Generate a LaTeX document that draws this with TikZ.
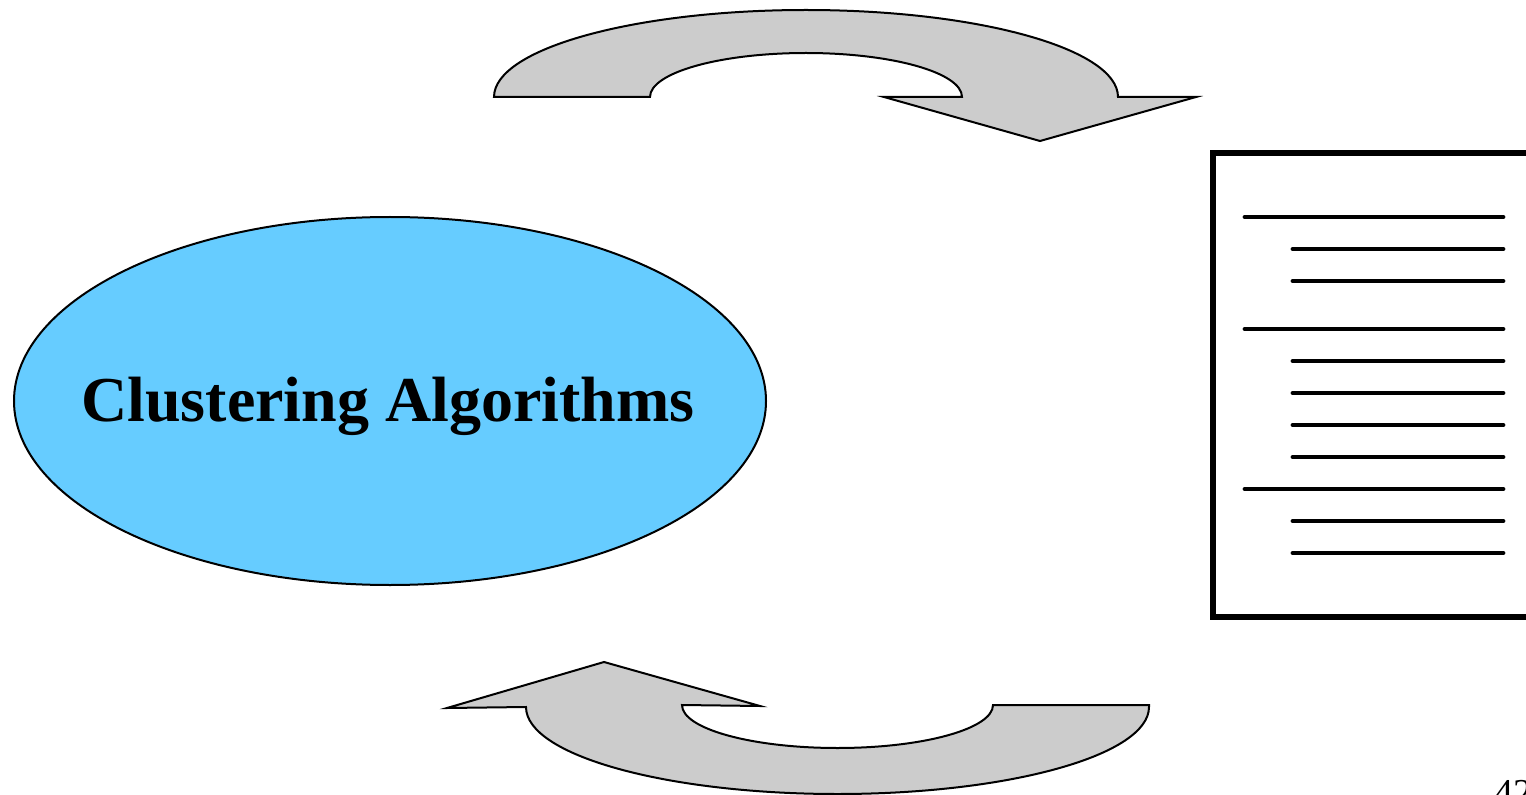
\documentclass[tikz,border=0pt]{standalone}
\usepackage{fontspec}
\setmainfont{Liberation Serif}
\usetikzlibrary{shapes.geometric}
\definecolor{cloudblue}{HTML}{66CCFF}
\definecolor{arrowgray}{HTML}{CCCCCC}
\tikzset{
  bentarrow/.style={fill=arrowgray,draw=black,line width=1pt,line join=miter},
  docline/.style={line width=2.4pt,line cap=round},
}
\begin{document}
\begin{tikzpicture}[x=0.5pt,y=0.5pt]
\clip (0,0) rectangle (1526,794);
\useasboundingbox (0,0) rectangle (1526,794);
% ellipse
\node[ellipse,draw=black,line width=1pt,fill=cloudblue,minimum width=752*0.5pt,minimum height=368*0.5pt,inner sep=0pt] (algo) at (390,393) {};
\node[font=\bfseries\fontsize{32}{36}\selectfont] (label) at (388,388) {Clustering Algorithms};
% top arrow
\path[bentarrow] (494,697) -- (650,697) arc[start angle=180,end angle=0,x radius=156,y radius=44]
  -- (884,697) -- (1040,653) -- (1196,697) -- (1118,697)
  arc[start angle=0,end angle=180,x radius=312,y radius=87] -- cycle;
% bottom arrow
\path[bentarrow] (1149,89) -- (993,89) arc[start angle=0,end angle=-180,x radius=155.5,y radius=43]
  -- (760,88) -- (604,132) -- (447,86) -- (526,87)
  arc[start angle=180,end angle=360,x radius=311.5,y radius=87] -- cycle;
% document
\draw[line width=2.6pt] (1560,641) -- (1213,641) -- (1213,177) -- (1560,177);
\foreach \y in {217,329,489} \draw[docline] (1245,794-\y) -- (1503,794-\y);
\foreach \y in {249,281,361,393,425,457,521,553} \draw[docline] (1293,794-\y) -- (1503,794-\y);
% page number
\node[anchor=north west,inner sep=0pt,font=\fontsize{19}{22}\selectfont] (pg) at (1494,14) {42};
\end{tikzpicture}
\end{document}
